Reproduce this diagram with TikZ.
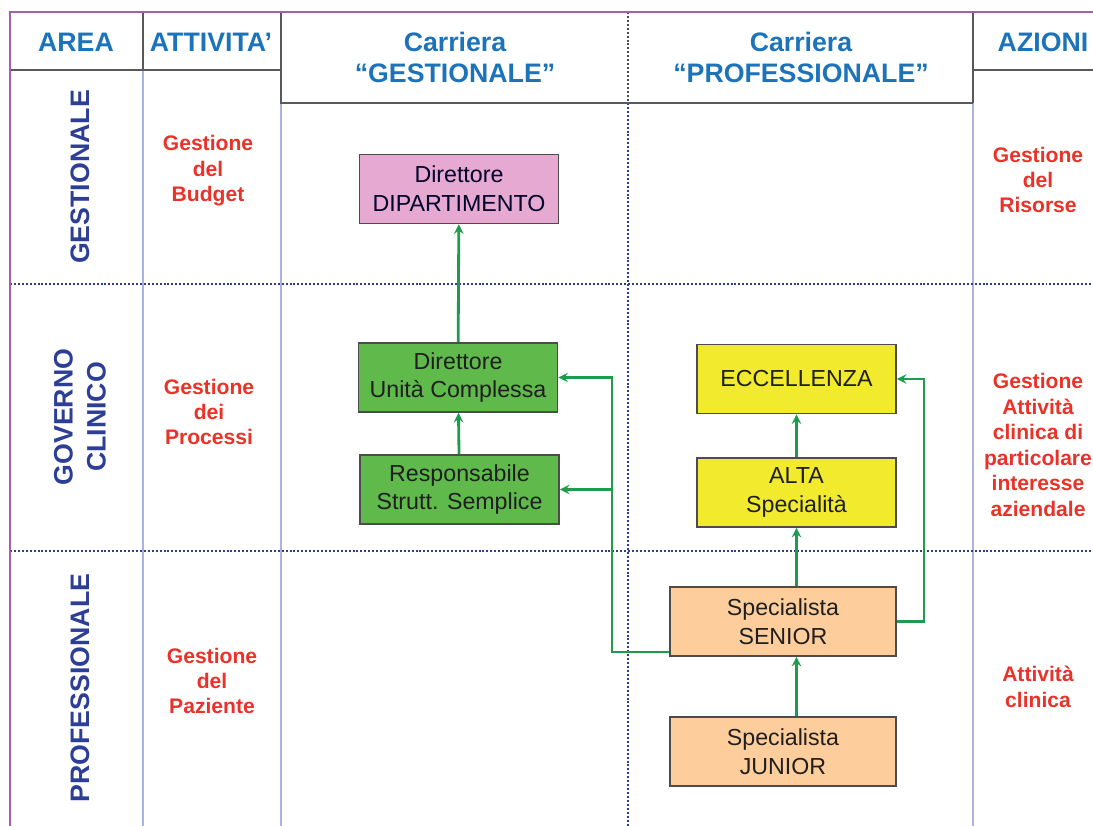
\documentclass[tikz,border=0pt]{standalone}
\usepackage{fontspec}
\setmainfont{Liberation Sans}
\usetikzlibrary{arrows}

\begin{document}
\begin{tikzpicture}[x=0.025cm, y=-0.025cm,
    %Option for nice arrows
    >=stealth, %
    frame/.style={color=framepurple, line width=1.2pt},
    cell/.style={color=black!65, line width=1.5pt},
    lane/.style={color=lanecolor, line width=1.6pt},
    band/.style={color=#1, line width=1.5pt, dash pattern=on 1.4pt off 1.4pt},
    head/.style={text=headblue, font=\fontsize{19}{22}\selectfont\bfseries, align=center},
    area/.style={text=areablue, font=\fontsize{19}{23.4}\selectfont\bfseries, align=center, rotate=90},
    task/.style={text=taskred, font=\fontsize{15}{18.1}\selectfont\bfseries, align=center},
    role/.style={draw=black!70, line width=1.1pt, fill=#1, text=black!88,
        font=\fontsize{16.5}{20.6}\selectfont, align=center,
        minimum width=4.975cm, minimum height=1.725cm, inner sep=0pt},
    link/.style={color=linkgreen, line width=2pt, ->},
]
    % Colors
    \definecolor{framepurple}{RGB}{165,95,175}
    \definecolor{lanecolor}{RGB}{170,180,225}
    \definecolor{bandblue}{RGB}{45,60,145}
    \definecolor{headblue}{RGB}{28,115,185}
    \definecolor{areablue}{RGB}{45,62,150}
    \definecolor{taskred}{RGB}{235,50,40}
    \definecolor{linkgreen}{RGB}{30,155,75}
    \definecolor{pinkrole}{RGB}{230,170,210}
    \definecolor{greenrole}{RGB}{95,185,75}
    \definecolor{yellowrole}{RGB}{242,234,44}
    \definecolor{peachrole}{RGB}{254,205,156}

    \useasboundingbox (0,0) rectangle (1093,826);

    % Table lines
    \draw[lane] (143,70) -- (143,826)
        (281,103) -- (281,826)
        (973,103) -- (973,826);
    \draw[band=bandblue] (628,103) -- (628,826);
    \draw[band=black!70] (628,12) -- (628,103);
    \draw[band=bandblue] (10,284) -- (1093,284)
        (10,551) -- (1093,551);
    \draw[cell] (10,70) -- (281,70)
        (143,12) -- (143,70)
        (281,12) -- (281,103) -- (973,103)
        (973,12) -- (973,103)
        (973,70) -- (1093,70);
    \draw[frame] (10,826) -- (10,12) -- (1093,12);

    % Headers
    \node[head] (harea) at (76,42) {AREA};
    \node[head] (hatt) at (211,42) {ATTIVITA’};
    \node[head] (hges) at (455,57) {Carriera\\“GESTIONALE”};
    \node[head] (hpro) at (801,57) {Carriera\\“PROFESSIONALE”};
    \node[head] (hazi) at (1043,42) {AZIONI};

    % Areas
    \node[area] (ages) at (80,177) {GESTIONALE};
    \node[area] (agov) at (80,417) {GOVERNO\\CLINICO};
    \node[area] (apro) at (80,688) {PROFESSIONALE};

    % Activities and actions
    \node[task] (tbud) at (208,171) {Gestione\\del\\Budget};
    \node[task] (tpro) at (209,412) {Gestione\\dei\\Processi};
    \node[task] (tpaz) at (212,681) {Gestione\\del\\Paziente};
    \node[task] (tris) at (1038,180) {Gestione\\del\\Risorse};
    \node[task] (tcli) at (1038,445) {Gestione\\Attività\\clinica di\\particolare\\interesse\\aziendale};
    \node[task] (tatt) at (1038,687) {Attività\\clinica};

    % Management career
    \node[role=pinkrole, text=black!60!blue!40!black] (dd) at (459,189) {Direttore\\DIPARTIMENTO};
    \node[role=greenrole] (duc) at (458,377.5) {Direttore\\Unità Complessa};
    \node[role=greenrole] (rss) at (459.5,489.5) {Responsabile\\Strutt. Semplice};

    % Professional career
    \node[role=yellowrole] (ecc) at (796.5,379) {ECCELLENZA};
    \node[role=yellowrole] (alta) at (796.5,492.5) {ALTA\\Specialità};
    \node[role=peachrole, minimum width=5.65cm] (senior) at (783,621.5) {Specialista\\SENIOR};
    \node[role=peachrole, minimum width=5.65cm] (junior) at (783,751.5) {Specialista\\JUNIOR};

    % Links
    \draw[link] (duc) -- (dd);
    \draw[link] (rss) -- (duc);
    \draw[link] (alta) -- (ecc);
    \draw[link] (senior.north -| alta.south) -- (alta.south);
    \draw[link] (junior.north -| alta.south) -- (senior.south -| alta.south);

    \coordinate (lft) at (612,652);
    \coordinate (rgt) at (924,621.5);
    \draw[link] (senior.west |- lft) -- (lft) |- (duc.east);
    \draw[link] (lft |- rss.east) -- (rss.east);
    \draw[link] (senior.east) -- (rgt) |- (ecc.east);
\end{tikzpicture}
\end{document}
